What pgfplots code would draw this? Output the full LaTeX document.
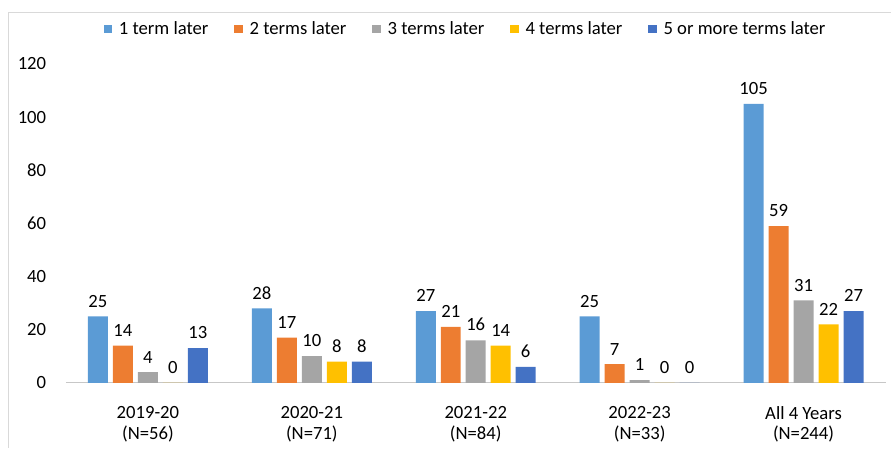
\documentclass[border=0pt]{standalone}
\usepackage{pgfplots}
\pgfplotsset{compat=1.18}
\usepackage{fontspec}
\setmainfont{Carlito}
\definecolor{c1}{HTML}{5B9BD5}
\definecolor{c2}{HTML}{ED7D31}
\definecolor{c3}{HTML}{A5A5A5}
\definecolor{c4}{HTML}{FFC000}
\definecolor{c5}{HTML}{4472C4}
\begin{document}
\fontsize{14}{15.75}\selectfont
\begin{tikzpicture}
\path (-49.5pt,-48.75pt) rectangle (618.75pt,287.25pt);
\draw[color=black!15, line width=0.75pt] (-42.75pt,-48.75pt) -- (-42.75pt,277.5pt) -- (618.75pt,277.5pt);
\begin{axis}[
  scale only axis, width=615pt, height=239.25pt,
  at={(0pt,0pt)}, anchor=south west,
  ybar=3.75pt, bar width=15pt,
  xmin=-0.5, xmax=4.5, ymin=0, ymax=120,
  ytick={0,20,...,120},
  xtick={0,1,2,3,4},
  xticklabels={{2019-20\\(N=56)},{2020-21\\(N=71)},{2021-22\\(N=84)},{2022-23\\(N=33)},{All 4 Years\\(N=244)}},
  xticklabel style={align=center, font=\fontsize{14}{15.25}\selectfont, yshift=-13pt},
  yticklabel style={font=\fontsize{14}{15.75}\selectfont, xshift=-10pt},
  /pgf/number format/assume math mode=true,
  axis x line*=bottom, axis y line*=left,
  x axis line style={draw=black!22, line width=0.75pt, -},
  y axis line style={draw=none},
  major tick length=0pt,
  ytick style={draw=none}, xtick style={draw=none},
  nodes near coords,
  nodes near coords style={font=\fontsize{14}{15.75}\selectfont, text=black, /pgf/number format/assume math mode=true, yshift=2pt},
  legend columns=5,
  legend style={draw=none, at={(0.488,1.1097)}, anchor=center, font=\fontsize{14}{15.75}\selectfont, /tikz/every even column/.append style={column sep=17.5pt}, /tikz/every odd column/.append style={column sep=3pt}},
  legend image code/.code={\fill[#1] (0pt,-3.2pt) rectangle (6.4pt,3.2pt);},
  clip=false,
]
\addplot[fill=c1, draw=none] coordinates {(0,25) (1,28) (2,27) (3,25) (4,105)};
\addplot[fill=c2, draw=none] coordinates {(0,14) (1,17) (2,21) (3,7) (4,59)};
\addplot[fill=c3, draw=none] coordinates {(0,4) (1,10) (2,16) (3,1) (4,31)};
\addplot[fill=c4, draw=none] coordinates {(0,0) (1,8) (2,14) (3,0) (4,22)};
\addplot[fill=c5, draw=none] coordinates {(0,13) (1,8) (2,6) (3,0) (4,27)};
\legend{1 term later, 2 terms later, 3 terms later, 4 terms later, 5 or more terms later}
\end{axis}
\end{tikzpicture}
\end{document}
